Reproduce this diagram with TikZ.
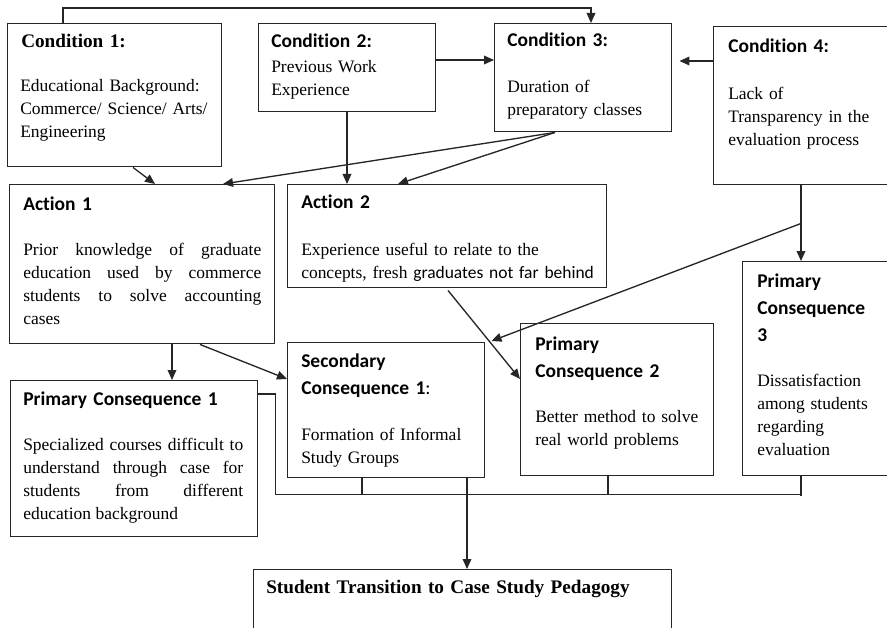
\documentclass[tikz,border=0pt]{standalone}
\usepackage{fontspec}
\setmainfont{Liberation Serif}
\newfontfamily\calibri[Ligatures=NoCommon]{Carlito}
\usetikzlibrary{arrows.meta}

\begin{document}
\begin{tikzpicture}[x=0.75pt, y=-0.75pt,
    box/.style={rectangle, draw=black!85, line width=1.1pt, anchor=north west, inner sep=0pt},
    wh/.style 2 args={minimum width=#1*0.75pt, minimum height=#2*0.75pt},
    head/.style={anchor=base west, inner sep=0pt, align=left, text width=300pt, font=\calibri\bfseries\fontsize{14.6pt}{20.25pt}\selectfont},
    timeshead/.style={head, font=\bfseries\fontsize{14.4pt}{20.25pt}\selectfont},
    body/.style={anchor=base west, inner sep=0pt, align=left, text width=240pt, font=\fontsize{13.1pt}{17.25pt}\selectfont},
    justbody/.style={body, align=justify, text width=#1},
    ln/.style={line width=1pt, draw=black!85},
    arr/.style={ln, -{Triangle[length=7.5pt, width=6.5pt]}}
  ]
    \useasboundingbox (0,0) rectangle (887,627);

    \node[box, wh={214}{143}] (c1) at (7,23) {};
    \node[box, wh={177}{88}] (c2) at (258,23) {};
    \node[box, wh={177}{108}] (c3) at (494,23) {};
    \node[box, wh={200}{158}] (c4) at (713,26) {};
    \node[box, wh={265}{159}] (a1) at (9,184) {};
    \node[box, wh={319}{103}] (a2) at (287,184) {};
    \node[box, wh={197}{135}] (sc1) at (287,342) {};
    \node[box, wh={193}{152}] (pc2) at (520,323) {};
    \node[box, wh={180}{214}] (pc3) at (742,261) {};
    \node[box, wh={247}{156}] (pc1) at (10,380) {};
    \node[box, wh={418}{80}] (st) at (253,569) {};

    \node[timeshead] (c1h) at (21,48) {Condition 1:};
    \node[body] (c1b) at (20,92) {Educational Background:\\Commerce/ Science/ Arts/\\Engineering};
    \node[head] (c2h) at (271,48) {Condition 2:};
    \node[body] (c2b) at (271,73) {Previous Work\\Experience};
    \node[head] (c3h) at (507,47) {Condition 3:};
    \node[body] (c3b) at (507,93) {Duration of\\preparatory classes};
    \node[head] (c4h) at (728,53) {Condition 4:};
    \node[body] (c4b) at (728,100) {Lack of\\Transparency in the\\evaluation process};
    \node[head] (a1h) at (23,210) {Action 1};
    \node[justbody=178.5pt] (a1b) at (23,255) {Prior knowledge of graduate\linebreak education used by commerce\linebreak students to solve accounting\linebreak cases};
    \node[head] (a2h) at (301,209) {Action 2};
    \node[body] (a2b) at (301,255) {Experience useful to relate to the\\concepts, fresh {\calibri graduates not far behind}};
    \node[head] (sc1h) at (301,367) {Secondary\\Consequence 1{\mdseries:}};
    \node[body] (sc1b) at (301,440) {Formation of Informal\\Study Groups};
    \node[head] (pc2h) at (535,350) {Primary\\Consequence 2};
    \node[body] (pc2b) at (535,422) {Better method to solve\\real world problems};
    \node[head] (pc3h) at (757,287) {Primary\\Consequence\\3};
    \node[body] (pc3b) at (757,386) {Dissatisfaction\\among students\\regarding\\evaluation};
    \node[head] (pc1h) at (23,405) {Primary Consequence 1};
    \node[justbody=165pt] (pc1b) at (23,450) {Specialized courses difficult to\linebreak understand through case for\linebreak students from different\linebreak education background};
    \node[timeshead] (sth) at (266,593) {Student Transition to Case Study Pedagogy};

    \draw[arr] ([shift={(56,0)}]c1.north west) -- ++(0,-15) -| ([shift={(97,0)}]c3.north west);
    \draw[arr] ([shift={(0,37)}]c2.north east) -- ([shift={(0,37)}]c3.north west);
    \draw[arr] ([shift={(0,35)}]c4.north west) -- ([shift={(7,38)}]c3.north east);
    \draw[arr] ([shift={(126,0)}]c1.south west) -- ([shift={(146,0)}]a1.north west);
    \draw[arr] ([shift={(61,0)}]c3.south west) -- ([shift={(214,0)}]a1.north west);
    \draw[arr] ([shift={(61,0)}]c3.south west) -- ([shift={(111,0)}]a2.north west);
    \draw[arr] ([shift={(89,0)}]c2.south west) -- ([shift={(60,0)}]a2.north west);
    \draw[arr] ([shift={(88,0)}]c4.south west) -- ([shift={(59,0)}]pc3.north west);
    \draw[arr] ([shift={(88,38)}]c4.south west) -- ([shift={(6,-1)}]sc1.north east);
    \draw[arr] ([shift={(161,2)}]a2.south west) -- ([shift={(0,56)}]pc2.north west);
    \draw[arr] ([shift={(163,0)}]a1.south west) -- ([shift={(162,0)}]pc1.north west);
    \draw[arr] ([shift={(191,0)}]a1.south west) -- ([shift={(0,37)}]sc1.north west);
    \draw[ln] ([shift={(0,14)}]pc1.north east) -- ++(17,0) |- ([shift={(59,18)}]pc3.south west);
    \draw[ln] ([shift={(75,0)}]sc1.south west) -- ++(0,16);
    \draw[ln] ([shift={(88,0)}]pc2.south west) -- ++(0,18);
    \draw[ln] ([shift={(59,0)}]pc3.south west) -- ++(0,20);
    \draw[arr] ([shift={(180,0)}]sc1.south west) -- ([shift={(214,0)}]st.north west);
  \end{tikzpicture}
\end{document}
